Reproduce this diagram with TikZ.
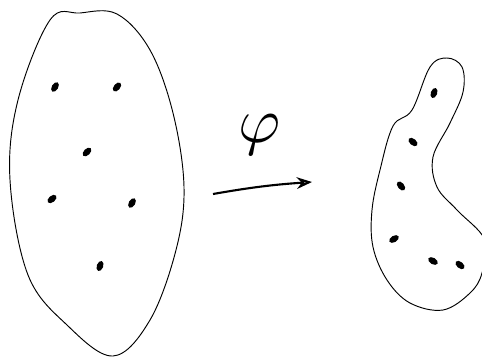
\documentclass[tikz,border=0pt]{standalone}
\usepackage{tikz}
\usetikzlibrary{arrows.meta, shapes.geometric}
\tikzset{
  blob/.style={draw=black, line width=0.8pt, smooth cycle, tension=0.6},
  spot/.style={fill=black, ellipse, inner sep=0pt, minimum width=9pt, minimum height=5.5pt},
  maparr/.style={-{Stealth[length=13pt, width=10pt, open]}, line width=1.8pt},
}
\begin{document}
\begin{tikzpicture}[x=0.03cm, y=-0.03cm]
  % canvas in pixel units
  \useasboundingbox (0,0) rectangle (482,359);

  % left set
  \draw[blob] plot coordinates {(50,20) (80,13) (117,14) (150,50) (173,113) (184,187)
    (176,250) (150,320) (113,356) (67,325) (28,275) (10,180) (18,100)};

  % points of the left set
  \foreach \px/\py/\rot in {55/87/60, 117/87/50, 87/152/45, 52/199/40, 132/203/60, 100/266/70}
    \node[spot, rotate=\rot] (l-\px) at (\px,\py) {};

  % map
  \node[scale=5.5, inner sep=0pt] (phi) at (260,135) {$\varphi$};
  \coordinate (arrfrom) at (213,194);
  \coordinate (arrto) at (312,182);
  \draw[maparr] (arrfrom) to[bend left=3] (arrto);

  % right set
  \draw[blob] plot coordinates {(393,126) (412,110) (430,67) (447,58) (462,67) (463,92)
    (450,123) (433,157) (437,187) (457,210) (485,240) (482,273) (470,293) (443,310)
    (410,303) (387,280) (373,247) (372,210) (380,170)};

  % points of the right set
  \foreach \px/\py/\rot in {434/93/70, 413/142/-40, 401/186/-50, 394/239/30, 433/261/-30, 460/265/-40}
    \node[spot, rotate=\rot] (r-\px) at (\px,\py) {};
\end{tikzpicture}
\end{document}
